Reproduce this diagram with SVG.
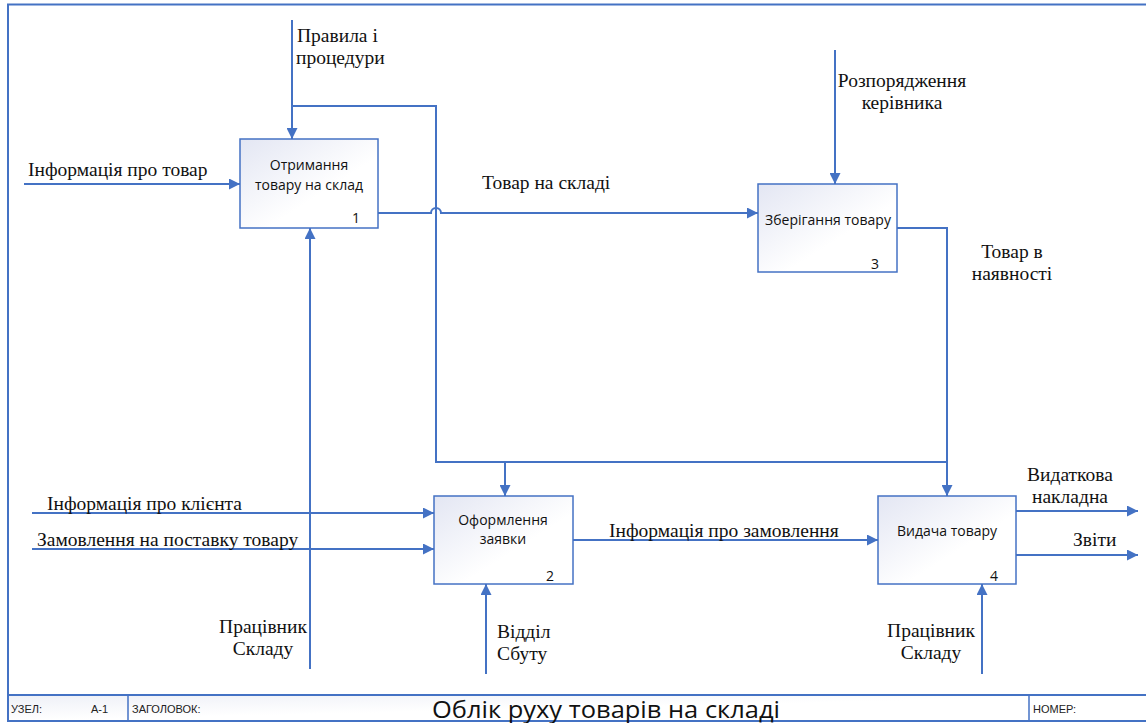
<svg xmlns="http://www.w3.org/2000/svg" width="1146" height="723" viewBox="0 0 1146 723">
  <style>
    .frame { fill: none; stroke: #4472C4; stroke-width: 2; }
    .box { fill: url(#boxFill); stroke: #4472C4; stroke-width: 1.5; }
    .line { fill: none; stroke: #4472C4; stroke-width: 2; }
    .arr { marker-end: url(#head); }
    .mid { text-anchor: middle; }
    .btxt { font-family: 'Open Sans', 'Liberation Sans', sans-serif; font-size: 14px; fill: #111; text-anchor: middle; }
    .num { font-family: 'Open Sans', 'Liberation Sans', sans-serif; font-size: 14px; fill: #111; }
    .small { font-family: 'Liberation Sans', sans-serif; font-size: 11px; fill: #222; }
    .title { font-family: 'Open Sans', 'Liberation Sans', sans-serif; font-size: 24px; fill: #111; text-anchor: middle; }
  </style>
  <defs>
    <linearGradient id="boxFill" x1="0" y1="0" x2="1" y2="1">
      <stop offset="0" stop-color="#E3E6F3"/>
      <stop offset="0.6" stop-color="#FFFFFF"/>
    </linearGradient>
    <linearGradient id="barFill" x1="0" y1="0" x2="1" y2="1">
      <stop offset="0" stop-color="#EEF0F7"/>
      <stop offset="0.5" stop-color="#FFFFFF"/>
    </linearGradient>
    <marker id="head" viewBox="0 0 10 10" refX="10" refY="5" markerWidth="5.5" markerHeight="5.5" orient="auto" markerUnits="strokeWidth">
      <path d="M0,0 L10,5 L0,10 Z" fill="#4472C4"/>
    </marker>
  </defs>

  <rect width="1146" height="723" fill="#FFFFFF"/>

  <!-- sheet frame and title strip -->
  <g id="frame">
    <path class="frame" d="M1146,4.5 H8 V695"/>
    <rect x="8" y="695" width="1140" height="26" fill="url(#barFill)" stroke="#4472C4" stroke-width="2"/>
    <line x1="128" y1="695" x2="128" y2="721" stroke="#4472C4" stroke-width="1.5"/>
    <line x1="1029" y1="695" x2="1029" y2="721" stroke="#4472C4" stroke-width="1.5"/>
    <text class="small" x="11" y="713">УЗЕЛ:</text>
    <text class="small" x="91" y="713">А-1</text>
    <text class="small" x="132" y="713">ЗАГОЛОВОК:</text>
    <text class="title" x="606" y="718" textLength="348" lengthAdjust="spacingAndGlyphs">Облік руху товарів на складі</text>
    <text class="small" x="1033" y="713">НОМЕР:</text>
  </g>

  <!-- connectors and their labels -->
  <g id="connectors">
    <path class="line arr" d="M24,184 H240"/>
    <path class="line arr" d="M292,20 V139"/>
    <path class="line" d="M292,106 H436 V462 H947"/>
    <path class="line arr" d="M505,462 V496"/>
    <path class="line arr" d="M378,213 H431 a5,5 0 0 1 10,0 H758"/>
    <path class="line arr" d="M835,50 V184"/>
    <path class="line arr" d="M897,228 H947 V496"/>
    <path class="line arr" d="M310,669 V228"/>
    <path class="line arr" d="M32,513 H434"/>
    <path class="line arr" d="M32,549 H434"/>
    <path class="line arr" d="M486,674 V584"/>
    <path class="line arr" d="M573,540 H878"/>
    <path class="line arr" d="M1016,511 H1138"/>
    <path class="line arr" d="M1016,555 H1138"/>
    <path class="line arr" d="M982,674 V584"/>

    <g font-family="Liberation Serif, Times New Roman, Tinos, DejaVu Serif, serif" font-size="19.5" fill="#111">
      <text x="297" y="42">Правила і</text>
      <text x="296" y="64">процедури</text>
      <text x="28" y="176">Інформація про товар</text>
      <text x="482" y="189">Товар на складі</text>
      <text class="mid" x="902" y="87">Розпорядження</text>
      <text class="mid" x="902" y="109">керівника</text>
      <text class="mid" x="1012" y="258">Товар в</text>
      <text class="mid" x="1012" y="280">наявності</text>
      <text x="47" y="510">Інформація про клієнта</text>
      <text x="37" y="546">Замовлення на поставку товару</text>
      <text class="mid" x="263" y="633">Працівник</text>
      <text class="mid" x="263" y="655">Складу</text>
      <text x="497" y="638">Відділ</text>
      <text x="497" y="660">Сбуту</text>
      <text x="609" y="537">Інформація про замовлення</text>
      <text class="mid" x="1070" y="481">Видаткова</text>
      <text class="mid" x="1070" y="503">накладна</text>
      <text x="1073" y="546">Звіти</text>
      <text class="mid" x="931" y="637">Працівник</text>
      <text class="mid" x="931" y="659">Складу</text>
    </g>
  </g>

  <!-- activity boxes -->
  <g id="node1">
    <rect class="box" x="240" y="139" width="138" height="89"/>
    <text class="btxt" x="309" y="170">Отримання</text>
    <text class="btxt" x="309" y="190">товару на склад</text>
    <text class="num" x="352" y="223">1</text>
  </g>
  <g id="node2">
    <rect class="box" x="434" y="496" width="139" height="88"/>
    <text class="btxt" x="503" y="525">Оформлення</text>
    <text class="btxt" x="503" y="544">заявки</text>
    <text class="num" x="546" y="581">2</text>
  </g>
  <g id="node3">
    <rect class="box" x="758" y="184" width="139" height="88"/>
    <text class="btxt" x="828" y="225">Зберігання товару</text>
    <text class="num" x="871" y="269">3</text>
  </g>
  <g id="node4">
    <rect class="box" x="878" y="496" width="138" height="88"/>
    <text class="btxt" x="947" y="536">Видача товару</text>
    <text class="num" x="990" y="581">4</text>
  </g>
</svg>
